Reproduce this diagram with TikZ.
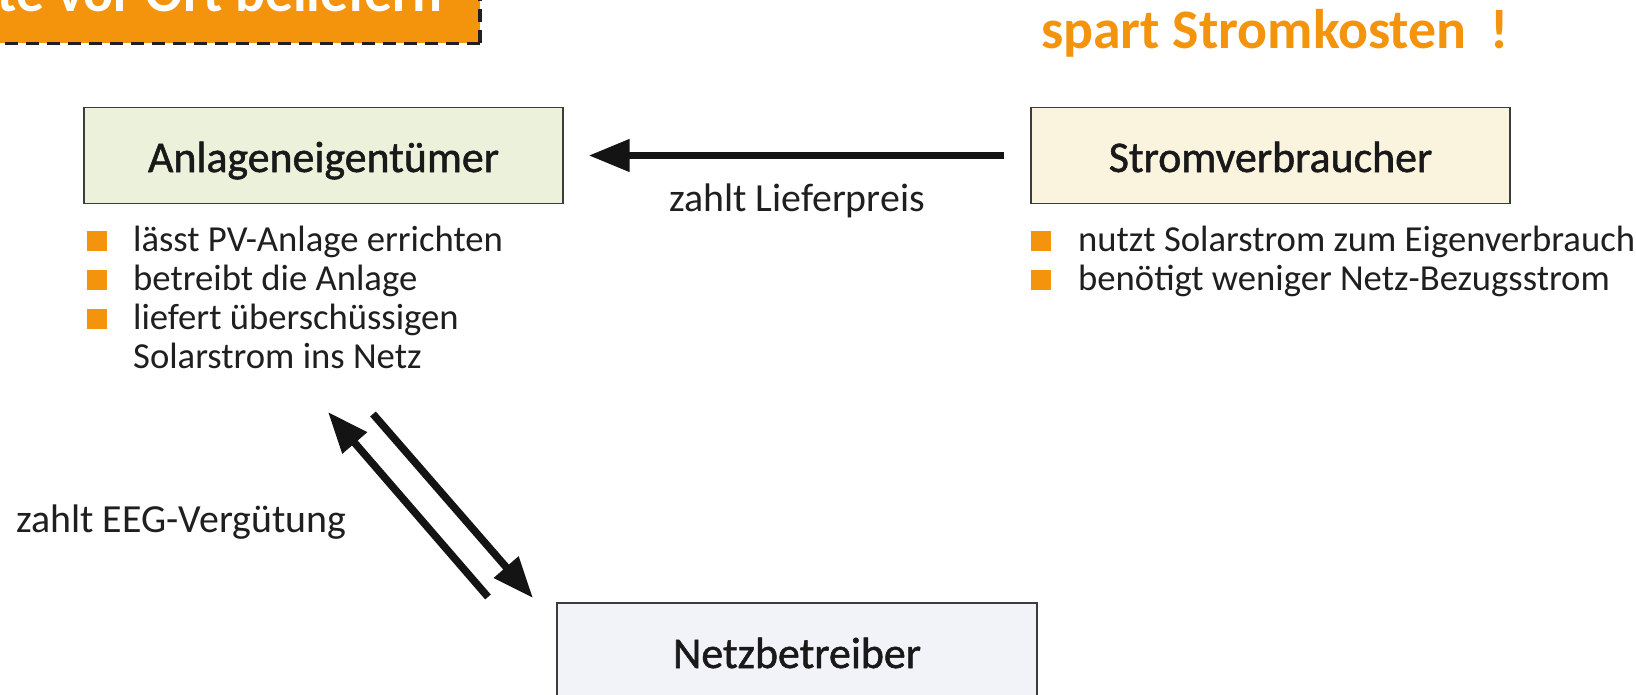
\documentclass[tikz,border=0pt]{standalone}
\usepackage{fontspec}
\setmainfont{Carlito}
\newfontfamily\semib{Carlito}[FakeBold=1.2]
\usetikzlibrary{arrows.meta}
\definecolor{accent}{RGB}{243,148,12}
\definecolor{frame}{RGB}{60,60,60}
\definecolor{fillA}{RGB}{235,241,218}
\definecolor{fillS}{RGB}{250,243,222}
\definecolor{fillN}{RGB}{242,243,248}
\definecolor{dashc}{RGB}{35,31,32}
\newcommand{\bulL}{\makebox[46bp][l]{\textcolor{accent}{\rule{20bp}{20bp}}}}
\newcommand{\bulR}{\makebox[47bp][l]{\textcolor{accent}{\rule{20bp}{20bp}}}}
\begin{document}
\begin{tikzpicture}[x=1bp,y=-1bp,
  box/.style={draw=frame, line width=1.2bp, font=\semib\fontsize{44}{48}\selectfont,
    text height=33bp, text depth=0bp, inner sep=0pt, text=black!90},
  item/.style={anchor=base west, inner sep=0pt, font=\fontsize{36.8}{40}\selectfont, text=black!88},
  lbl/.style={inner sep=0pt, font=\fontsize{40}{44}\selectfont, text=black!88},
  title/.style={inner sep=0pt, font=\bfseries\fontsize{56}{60}\selectfont},
  bigarrow/.style={line width=7.5bp, -{Triangle[length=41bp,width=31bp]}, black!92}
]
\clip (0,0) rectangle (1636,695);
\fill[white] (0,0) rectangle (1636,695);

% banner top left
\fill[accent] (-10,-60) rectangle (480,43.5);
\node[title, text=white, anchor=base east] (banner) at (443,12) {te vor Ort beliefern};
\draw[dashc, line width=3.5bp, dash pattern=on 13bp off 8bp] (480,43.5) -- (-10,43.5);
\draw[dashc, line width=3.5bp, dash pattern=on 13bp off 8bp] (480,43.5) -- (480,-10);

% title top right
\node[title, text=accent, anchor=base west] (spart) at (1041,49) {spart Stromkosten\hspace{11bp} !};

% boxes
\node[box, fill=fillA, minimum width=479bp, minimum height=96bp] (anlage) at (323.5,155.5) {Anlageneigentümer};
\node[box, fill=fillS, minimum width=479bp, minimum height=96bp] (strom) at (1270.5,155.5) {Stromverbraucher};
\node[box, fill=fillN, minimum width=480bp, minimum height=97bp] (netz) at (797,651.5) {Netzbetreiber};

% lists
\node[item] (l1) at (87,251) {\bulL lässt PV-Anlage errichten};
\node[item] (l2) at (87,290) {\bulL betreibt die Anlage};
\node[item] (l3) at (87,329) {\bulL liefert überschüssigen};
\node[item] (l4) at (133,368) {Solarstrom ins Netz};
\node[item] (r1) at (1031,251) {\bulR nutzt Solarstrom zum Eigenverbrauch};
\node[item] (r2) at (1031,290) {\bulR benötigt weniger Netz-Bezugsstrom};

% arrows
\draw[bigarrow, shorten <=26bp, shorten >=25bp] (strom.west) -- (anlage.east);
\node[lbl, anchor=base] (lief) at (797,211) {zahlt Lieferpreis};

\coordinate (upTail) at (488,597);
\coordinate (upTip) at (328,412);
\coordinate (dnTail) at (373,414);
\coordinate (dnTip) at (533,598);
\draw[bigarrow] (upTail) -- (upTip);
\draw[bigarrow] (dnTail) -- (dnTip);
\node[lbl, anchor=base west] (eeg) at (16,532) {zahlt EEG-Vergütung};
\end{tikzpicture}
\end{document}
